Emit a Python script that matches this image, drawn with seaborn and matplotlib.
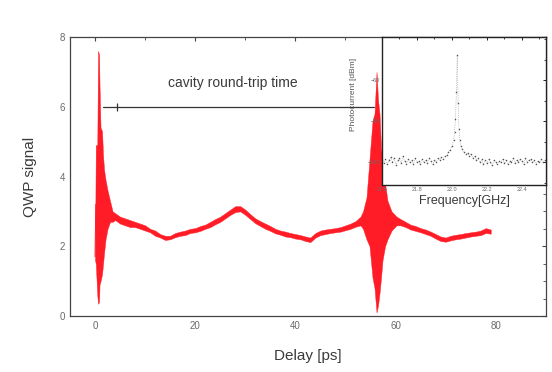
"""QWP signal versus delay, with the RF spectrum shown as an inset"""

import matplotlib
matplotlib.use("Agg")
import matplotlib.pyplot as plt
import numpy as np
import pandas as pd
import seaborn as sns
from matplotlib.ticker import MultipleLocator


delay_ps = [0.0, 0.15, 0.45, 0.6, 0.8, 0.9, 1.1, 1.4, 1.6, 1.8, 2.1, 2.5, 3.0, 3.5,
            4.0, 5, 6, 7, 8, 9, 10, 11, 12, 13, 14, 15, 16, 17, 18, 19, 20, 21, 22,
            23, 24, 25, 26, 27, 28, 29, 30, 31, 32, 33, 34, 35, 36, 37, 38, 39, 40,
            41, 42, 43, 44, 45, 46, 47, 48, 49, 50, 51, 52, 53, 53.5, 54.2, 54.8,
            55.4, 55.8, 56.2, 56.5, 56.8, 57.1, 57.4, 57.9, 58.4, 59.2, 60.2, 61,
            62, 63, 64, 65, 66, 67, 68, 69, 70, 71, 72, 73, 74, 75, 76, 77, 78, 79]
signal_upper = [1.8, 4.9, 4.9, 7.6, 7.5, 6.6, 5.4, 5.3, 4.6, 4.2, 3.9, 3.6, 3.3, 3.0,
                2.95, 2.85, 2.8, 2.75, 2.7, 2.65, 2.6, 2.5, 2.45, 2.35, 2.3, 2.3, 2.38,
                2.42, 2.45, 2.5, 2.52, 2.58, 2.62, 2.7, 2.78, 2.85, 2.95, 3.05, 3.15,
                3.15, 3.05, 2.92, 2.8, 2.72, 2.65, 2.58, 2.5, 2.45, 2.42, 2.38, 2.35,
                2.32, 2.28, 2.25, 2.38, 2.45, 2.48, 2.5, 2.52, 2.55, 2.6, 2.65, 2.72,
                2.85, 3.0, 3.4, 4.5, 5.6, 5.8, 7.0, 6.2, 5.8, 4.8, 4.5, 3.8, 3.3, 3.0,
                2.85, 2.78, 2.7, 2.62, 2.58, 2.52, 2.48, 2.42, 2.35, 2.28, 2.25, 2.3,
                2.33, 2.35, 2.38, 2.4, 2.42, 2.45, 2.52, 2.48]
signal_lower = [1.6, 1.5, 0.6, 0.35, 0.4, 0.9, 1.0, 1.2, 1.5, 1.8, 2.2, 2.5, 2.7, 2.7,
                2.75, 2.65, 2.6, 2.55, 2.55, 2.5, 2.45, 2.4, 2.3, 2.25, 2.18, 2.2, 2.26,
                2.3, 2.32, 2.38, 2.4, 2.44, 2.5, 2.55, 2.63, 2.7, 2.8, 2.9, 2.98, 3.0,
                2.9, 2.78, 2.66, 2.58, 2.5, 2.44, 2.37, 2.33, 2.28, 2.26, 2.22, 2.2,
                2.15, 2.12, 2.25, 2.32, 2.35, 2.38, 2.4, 2.42, 2.46, 2.5, 2.56, 2.6,
                2.5, 2.2, 2.0, 1.1, 0.8, 0.1, 0.3, 0.65, 1.1, 1.6, 2.0, 2.2, 2.45, 2.6,
                2.6, 2.55, 2.48, 2.44, 2.4, 2.35, 2.3, 2.22, 2.15, 2.13, 2.17, 2.2,
                2.22, 2.25, 2.28, 2.3, 2.32, 2.38, 2.36]

# Round-trip annotation
roundtrip_start = 1.6
roundtrip_end = 55.6
roundtrip_level = 6.0
roundtrip_tick = 4.4
roundtrip_text = "cavity round-trip time"

# Inset: RF spectrum
freq_ghz = [21.60, 21.61, 21.62, 21.63, 21.64, 21.65, 21.66, 21.67, 21.68, 21.69,
            21.70, 21.71, 21.72, 21.73, 21.74, 21.75, 21.76, 21.77, 21.78, 21.79,
            21.80, 21.81, 21.82, 21.83, 21.84, 21.85, 21.86, 21.87, 21.88, 21.89,
            21.90, 21.91, 21.92, 21.93, 21.94, 21.95, 21.96, 21.97, 21.98, 21.99,
            22.00, 22.01, 22.015, 22.02, 22.025, 22.03, 22.035, 22.04, 22.045, 22.05,
            22.06, 22.07, 22.08, 22.09, 22.10, 22.11, 22.12, 22.13, 22.14, 22.15,
            22.16, 22.17, 22.18, 22.19, 22.20, 22.21, 22.22, 22.23, 22.24, 22.25,
            22.26, 22.27, 22.28, 22.29, 22.30, 22.31, 22.32, 22.33, 22.34, 22.35,
            22.36, 22.37, 22.38, 22.39, 22.40, 22.41, 22.42, 22.43, 22.44, 22.45,
            22.46, 22.47, 22.48, 22.49, 22.50, 22.51, 22.52, 22.53]
power_dbm = [-99, -100.5, -98.5, -101, -99, -97.5, -100, -98, -101.5, -99,
             -98, -100.5, -97, -99.5, -101, -98.5, -100, -99, -101, -98,
             -100, -99.5, -101, -98.5, -100, -99, -100.5, -98, -99.5, -101,
             -99, -100, -98, -99, -97.5, -98.5, -97, -96.5, -95, -94,
             -92, -89, -85, -79, -66, -48, -71, -84, -89, -92,
             -93.5, -95, -96, -95.5, -97, -96, -98, -97, -99, -98,
             -100, -98.5, -101, -99, -100.5, -98.5, -100, -101.5, -99, -100,
             -101, -99.5, -100, -98.5, -100.5, -99, -101, -99.5, -100, -98,
             -100.5, -99, -100, -98.5, -99.5, -101, -98, -100, -99, -98.5,
             -100, -99, -101, -99.5, -100, -98.5, -100, -99]

x_ticks = [0, 20, 40, 60, 80]
y_ticks = [0, 2, 4, 6, 8]
inset_x_ticks = [21.6, 21.8, 22.0, 22.2, 22.4]
inset_y_ticks = [-100, -80, -60]

RED = "#ff1c26"
TICK_GRAY = "#6a6a6a"
TEXT_GRAY = "#3a3a3a"


def style_axes(ax, spine_color, lw):
    for side in ax.spines.values():
        side.set_visible(True)
        side.set_color(spine_color)
        side.set_linewidth(lw)


def main():
    sns.set_style("white")
    plt.rcParams["font.family"] = ["Liberation Sans", "DejaVu Sans"]

    fig = plt.figure(figsize=(5.52, 3.72), dpi=100)
    ax = fig.add_axes([0.1268, 0.1505, 0.862, 0.75])

    up = np.array(signal_upper)
    lo = np.array(signal_lower)
    df = pd.DataFrame({"delay": delay_ps, "mid": (up + lo) / 2})

    ax.fill_between(delay_ps, lo, up, color=RED, lw=0.3, zorder=2)
    sns.lineplot(data=df, x="delay", y="mid", color=RED, lw=0.7, ax=ax, zorder=2)

    ax.set_xlim(-5, 90)
    ax.set_ylim(0, 8)
    ax.set_xticks(x_ticks)
    ax.set_yticks(y_ticks)
    ax.yaxis.set_minor_locator(MultipleLocator(0.5))
    ax.xaxis.set_minor_locator(MultipleLocator(10))
    ax.tick_params(which="both", direction="in", top=True, right=True,
                   colors="#444444", labelcolor=TICK_GRAY, labelsize=7)
    ax.tick_params(which="major", length=3, width=0.8)
    ax.tick_params(which="minor", length=2, width=0.6)
    style_axes(ax, "#444444", 0.9)

    ax.set_xlabel("Delay [ps]", fontsize=11, color=TEXT_GRAY, labelpad=13)
    ax.set_ylabel("QWP signal", fontsize=11, color=TEXT_GRAY, labelpad=16)

    # round-trip marker
    ax.plot([roundtrip_start, roundtrip_end], [roundtrip_level, roundtrip_level],
            color="#333333", lw=0.9, zorder=3)
    ax.plot([roundtrip_tick], [roundtrip_level], marker="|", markersize=6,
            color="#333333", mew=0.9, zorder=3)
    ax.text(27.5, 6.68, roundtrip_text, fontsize=10, color=TEXT_GRAY,
            ha="center", va="center")

    # inset spectrum
    ax_in = fig.add_axes([0.692, 0.5027, 0.297, 0.398])
    ax_in.set_facecolor("white")
    spec = pd.DataFrame({"freq": freq_ghz, "power": power_dbm})
    sns.lineplot(data=spec, x="freq", y="power", ax=ax_in, color="#9a9a9a",
                 lw=0.5, ls=":", marker=".", markersize=2.2,
                 markerfacecolor="#555555", markeredgewidth=0)
    ax_in.set_xlim(21.6, 22.537)
    ax_in.set_ylim(-111, -39)
    ax_in.set_xticks(inset_x_ticks)
    ax_in.set_xticklabels([f"{v:.1f}" for v in inset_x_ticks])
    ax_in.set_yticks(inset_y_ticks)
    ax_in.xaxis.set_minor_locator(MultipleLocator(0.1))
    ax_in.yaxis.set_minor_locator(MultipleLocator(10))
    ax_in.tick_params(which="both", direction="in", top=True, right=True,
                      colors="#222222", labelcolor=TICK_GRAY, labelsize=4, pad=1.5)
    ax_in.tick_params(which="major", length=2.5, width=0.7)
    ax_in.tick_params(which="minor", length=1.5, width=0.6)
    style_axes(ax_in, "#222222", 1.0)
    ax_in.set_xlabel("Frequency[GHz]", fontsize=9, color=TEXT_GRAY, labelpad=2)
    ax_in.set_ylabel("Photocurrent [dBm]", fontsize=6, color="#555555")
    ax_in.yaxis.set_label_coords(-0.15, 0.61)

    fig.savefig("out.png", dpi=100, facecolor="white")


if __name__ == "__main__":
    main()
